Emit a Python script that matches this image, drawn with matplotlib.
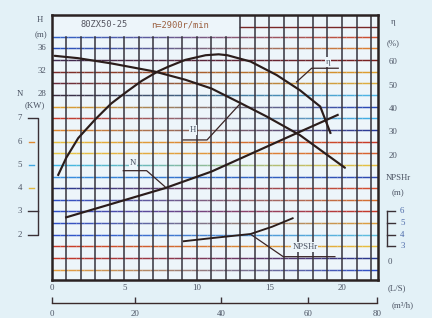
import numpy as np
import matplotlib
matplotlib.use("Agg")
import matplotlib.pyplot as plt
from matplotlib.collections import LineCollection
from matplotlib.colors import to_rgb

# ---------------- data ----------------
flow_head = [0.2, 1.8, 4.1, 7.1, 9.2, 11.0, 13.0, 14.8, 17.1, 20.2]
head_m = [34.7, 34.3, 33.4, 32.0, 30.6, 29.1, 26.6, 24.3, 21.1, 15.5]

flow_eff = [0.45, 1.0, 1.83, 3.0, 4.1, 5.2, 6.2, 7.3, 8.0, 9.2, 10.6, 11.5, 12.1, 13.7, 15.5, 17.1, 18.5, 19.2]
eff_pct = [10.7, 18.0, 26.5, 34.5, 41.3, 46.5, 51.0, 55.0, 57.0, 60.0, 62.0, 62.4, 62.0, 59.3, 53.5, 47.0, 40.0, 28.7]

flow_power = [1.0, 4.1, 7.8, 11.0, 16.6, 19.7]
power_kw = [2.75, 3.32, 4.0, 4.71, 6.28, 7.14]

flow_npsh = [9.1, 10.9, 13.7, 15.2, 16.6]
npshr_m = [3.45, 3.7, 4.07, 4.7, 5.42]

ls_ticks = [0, 5, 10, 15, 20]
head_ticks = [36, 32, 28]
eff_ticks = [60, 50, 40, 30, 20]
power_ticks = [7, 6, 5, 4, 3, 2]
npsh_ticks = [6, 5, 4, 3]
m3h_ticks = [0, 20, 40, 60, 80]
m3h_scale_ls = [-0.15, 5.6, 11.6, 17.65, 22.4]   # where the printed m3/h scale sits in L/s

title_model = "80ZX50-25"
title_speed = "n=2900r/min"

# scale conversions of the shared grid (all drawn in head metres)
def eff_to_y(e):
    return 10 + 0.4 * np.asarray(e, float)

def pow_to_y(p):
    return 4 * np.asarray(p, float) - 4

def npsh_to_y(n):
    return 2 * np.asarray(n, float) - 4

# ---------------- figure ----------------
W, H = 432, 318
fig = plt.figure(figsize=(W / 100, H / 100), dpi=100)
bg_out = "#e3f1f7"
bg_in = "#edf5fa"
fig.patch.set_facecolor(bg_out)
ax = fig.add_axes([51.7 / W, 38 / H, (378.3 - 51.7) / W, 265 / H])
ax.set_facecolor(bg_in)
XMAX, YMIN, YMAX = 22.5, -3.75, 41.7
ax.set_xlim(0, XMAX)
ax.set_ylim(YMIN, YMAX)

txt = "#4a5262"
serif = "Liberation Serif"
fs = 6.3

# horizontal grid lines with scan-like colour drift
hcols = {
    38: ('#3060c8', '#d05030'), 36: ('#2850c0', '#e08030'), 34: ('#402a50', '#7a2020'),
    32: ('#7a2a2a', '#e0a030'), 30: ('#6a2a3a', '#e0b040'), 28: ('#3a2a40', '#50b8e8'),
    26: ('#e0a030', '#2848b8'), 24: ('#c83828', '#40b0e8'), 22: ('#e08830', '#2a3a98'),
    20: ('#e8c040', '#c83828'), 18: ('#e8c848', '#d86030'), 16: ('#40b8e8', '#e8c040'),
    14: ('#3890e0', '#3048b0'), 12: ('#283890', '#d85030'), 10: ('#3050c8', '#d87030'),
    8: ('#3050c8', '#c83828'), 6: ('#3050c8', '#e0a040'), 4: ('#3050c8', '#60c0e0'),
    2: ('#c83828', '#e8c040'), 0: ('#c83828', '#283890'), -2: ('#e8a040', '#3050c8'),
}
n = 40
xs = np.linspace(0, XMAX, n + 1)
for yv, (c1, c2) in hcols.items():
    segs = [[(xs[i], yv), (xs[i + 1], yv)] for i in range(n)]
    a, b = np.array(to_rgb(c1)), np.array(to_rgb(c2))
    cols = [tuple(a + (b - a) * (i / (n - 1))) for i in range(n)]
    ax.add_collection(LineCollection(segs, colors=cols, linewidths=1.05, zorder=1))
# upper title box region
ax.plot([13, XMAX], [39.6, 39.6], color="#7a2828", lw=1.0, zorder=1)
vcol = "#34323c"
for xv in range(1, 23):
    top = YMAX if xv >= 13 else 38
    ax.plot([xv, xv], [YMIN, top], color=vcol, lw=1.1, zorder=1.5)

for s in ax.spines.values():
    s.set_color("#2a2222")
    s.set_linewidth(1.8)

# ---------------- curves ----------------
ccol = "#2b1d1b"
ax.plot(flow_head, head_m, color=ccol, lw=1.55, zorder=3, solid_capstyle="round")
ax.plot(flow_eff, eff_to_y(eff_pct), color=ccol, lw=1.55, zorder=3)
ax.plot(flow_power, pow_to_y(power_kw), color=ccol, lw=1.55, zorder=3)
ax.plot(flow_npsh, npsh_to_y(npshr_m), color=ccol, lw=1.35, zorder=3)

# leaders and curve names
lcol = "#3a2526"
bb = dict(facecolor=bg_in, edgecolor="none", pad=0.6)
ax.plot([19.74, 17.91, 16.87], [32.57, 32.57, 30.22], color=lcol, lw=0.9, zorder=3)
ax.text(19.03, 33.7, "η", fontsize=fs, color=txt, ha="center", va="center", bbox=bb, zorder=4, family=serif)
ax.plot([9.06, 10.7, 12.97], [20.27, 20.27, 26.45], color=lcol, lw=0.9, zorder=3)
ax.text(9.75, 22.0, "H", fontsize=fs, color=txt, ha="center", va="center", bbox=bb, zorder=4, family=serif)
ax.plot([4.93, 6.54, 7.8], [15.0, 15.0, 12.26], color=lcol, lw=0.9, zorder=3)
ax.text(5.62, 16.3, "N", fontsize=fs, color=txt, ha="center", va="center", bbox=bb, zorder=4, family=serif)
ax.plot([19.51, 15.95, 13.77], [0.25, 0.25, 3.98], color=lcol, lw=0.9, zorder=3)
ax.text(17.44, 1.85, "NPSHr", fontsize=fs, color=txt, ha="center", va="center", bbox=bb, zorder=4, family=serif)

# title in the box
ax.text(3.6, 40.0, title_model, fontsize=6.3, color="#555560", ha="center", va="center", family="DejaVu Sans Mono")
ax.text(8.83, 39.9, title_speed, fontsize=6.3, color="#9a6040", ha="center", va="center", family="DejaVu Sans Mono")

# ---------------- left scales ----------------
kw = dict(fontsize=fs, color=txt, va="center", clip_on=False, family=serif)
for v in head_ticks:
    ax.text(-0.35, v + 0.1, str(v), ha="right", **kw)
ax.text(-0.8, 40.8, "H", ha="center", **kw)
ax.text(-0.75, 38.3, "(m)", ha="center", **kw)
ax.text(-2.18, 28.1, "N", ha="center", **kw)
ax.text(-1.2, 26.3, "(KW)", ha="center", **kw)
for v in power_ticks:
    ax.text(-2.18, pow_to_y(v), str(v), ha="center", **kw)
ax.plot([-1.63, -0.94, -0.94, -1.63], [pow_to_y(7), pow_to_y(7), pow_to_y(2), pow_to_y(2)],
        color="#3a3036", lw=1.0, clip_on=False)
for v, c in zip([6, 5, 4, 3], ["#e08a30", "#40a8e0", "#e0b840", "#3a3036"]):
    x0 = -1.63 if v == 3 else -1.55
    x1 = -0.94 if v == 3 else -1.25
    ax.plot([x0, x1], [pow_to_y(v)] * 2, color=c, lw=1.0, clip_on=False)

# ---------------- right scales ----------------
ax.text(23.5, 40.5, "η", ha="center", **kw)
ax.text(23.5, 36.9, "(%)", ha="center", **kw)
for v in eff_ticks:
    ax.text(23.5, eff_to_y(v) - 0.4, str(v), ha="center", **kw)
ax.text(23.85, 13.75, "NPSHr", ha="center", **kw)
ax.text(23.85, 11.2, "(m)", ha="center", **kw)
ax.plot([23.09, 23.09], [npsh_to_y(3), npsh_to_y(6)], color="#3a3036", lw=1.0, clip_on=False)
for v in npsh_ticks:
    ax.plot([23.09, 23.62], [npsh_to_y(v)] * 2, color="#3a3036", lw=1.0, clip_on=False)
    ax.text(24.15, npsh_to_y(v), str(v), ha="center", **{**kw, "color": "#4a68a8"})
ax.text(23.3, -0.65, "0", ha="center", **kw)

# ---------------- bottom scales ----------------
ax.set_xticks(ls_ticks)
ax.set_xticklabels([str(v) for v in ls_ticks], fontsize=fs, color=txt, family=serif)
ax.tick_params(axis="x", length=0, pad=3)
ax.set_yticks([])
ax.text(23.8, -5.1, "(L/S)", ha="center", **kw)
ax.text(24.2, -8.0, "(m³/h)", ha="center", **kw)

# printed m3/h scale: separate thin axis sharing the L/s coordinate
ax2 = fig.add_axes([51.7 / W, (318 - 303) / H, (378.3 - 51.7) / W, 0.0005])
ax2.set_xlim(0, XMAX)
ax2.set_facecolor("none")
for k in ("top", "left", "right"):
    ax2.spines[k].set_visible(False)
ax2.spines["bottom"].set_color("#3a2a2a")
ax2.spines["bottom"].set_linewidth(1.0)
ax2.spines["bottom"].set_bounds(m3h_scale_ls[0], m3h_scale_ls[-1])
ax2.spines["bottom"].set_clip_on(False)
ax2.set_xticks(m3h_scale_ls)
ax2.set_xticklabels([str(v) for v in m3h_ticks], fontsize=fs, color=txt, family=serif)
ax2.tick_params(axis="x", direction="in", length=4, width=1.0, color="#3a3036", pad=5)
ax2.set_yticks([])

fig.savefig("out.png", dpi=100, facecolor=fig.get_facecolor())
